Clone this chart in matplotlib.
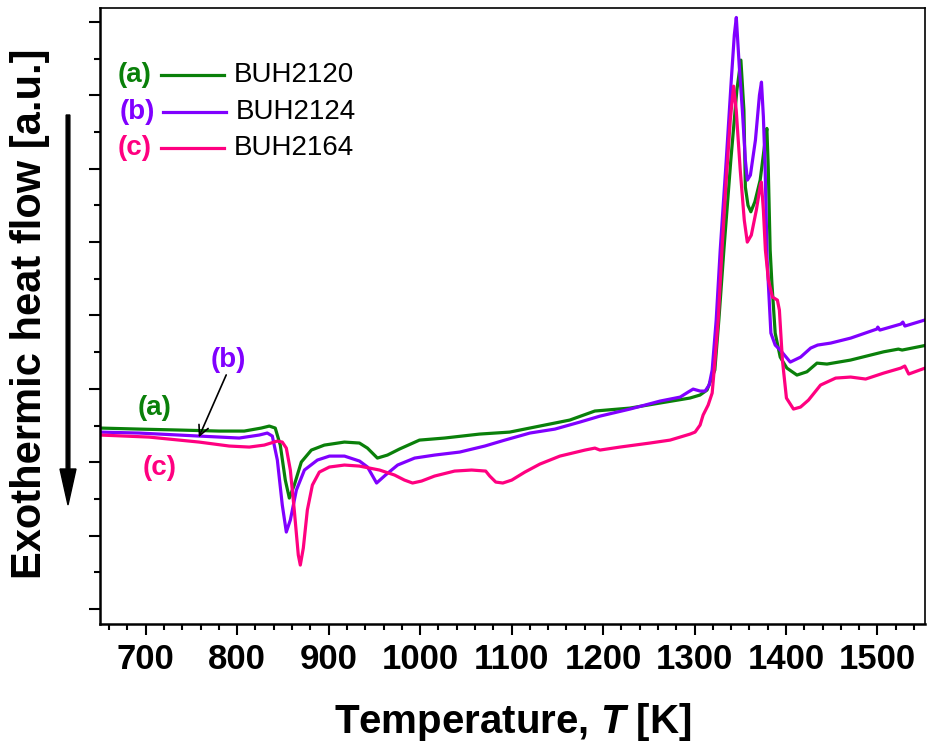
import matplotlib
matplotlib.use("Agg")
import matplotlib.pyplot as plt
from matplotlib.lines import Line2D

plt.rcParams['font.family'] = ['Liberation Sans', 'DejaVu Sans']
plt.rcParams['mathtext.fontset'] = 'custom'
plt.rcParams['mathtext.it'] = 'Liberation Sans:bold:italic'
plt.rcParams['mathtext.rm'] = 'Liberation Sans:bold'

# ---- data (T in K, heat flow in a.u.) ----
T_a = [650, 692.7, 736.5, 780.3, 807.7, 826.3, 835.1, 841.6, 847.1, 852.6, 857.0, 862.4, 870.1, 881.1,
       895.3, 917.2, 933.6, 942.4, 953.3, 964.3, 977.4, 999.3, 1026.7, 1065.0, 1097.9, 1130.7, 1163.6,
       1191.0, 1229.3, 1262.2, 1295.0, 1306.0, 1313.7, 1322.2, 1326.6, 1332.1, 1339.7, 1346.3, 1350.7,
       1354.0, 1355.6, 1358.5, 1361.6, 1366.0, 1371.8, 1377.3, 1379.1, 1380.6, 1382.7, 1384.6, 1388.2,
       1393.7, 1401.0, 1412.0, 1422.9, 1433.9, 1444.8, 1470.4, 1506.8, 1522.9, 1527.0, 1554.4]
H_a = [2.466, 2.452, 2.439, 2.425, 2.425, 2.466, 2.493, 2.466, 2.234, 1.757, 1.512, 1.689, 2.003, 2.166,
       2.234, 2.275, 2.262, 2.193, 2.057, 2.098, 2.180, 2.302, 2.330, 2.384, 2.411, 2.493, 2.575,
       2.698, 2.738, 2.807, 2.875, 2.916, 2.984, 3.256, 3.937, 4.891, 6.117, 7.071, 7.480,
       6.798, 5.749, 5.500, 5.413, 5.550, 5.845, 6.390, 6.549, 6.022, 4.891, 4.441, 3.760,
       3.433, 3.283, 3.188, 3.233, 3.351, 3.338, 3.392, 3.505, 3.542, 3.529, 3.597]

T_b = [650, 692.7, 758.4, 802.2, 824.1, 832.9, 838.4, 843.9, 849.3, 853.7, 858.1, 864.7, 873.5, 887.7,
       900.9, 917.3, 933.8, 942.5, 952.4, 962.2, 975.4, 994.0, 1015.9, 1043.3, 1070.7, 1092.6, 1120.0,
       1147.4, 1174.8, 1196.7, 1229.5, 1262.4, 1284.3, 1293.0, 1298.5, 1306.2, 1311.6, 1316.0, 1319.3,
       1323.7, 1328.1, 1334.7, 1340.2, 1343.5, 1345.7, 1349.0, 1352.3, 1355.6, 1357.8, 1361.1, 1366.6,
       1371.0, 1373.2, 1375.3, 1377.2, 1379.4, 1383.5, 1388.2, 1393.7, 1404.7, 1416.0, 1427.0, 1434.6,
       1448.9, 1470.8, 1499.3, 1500.4, 1502.6, 1525.6, 1527.8, 1530.0, 1555.2]
H_b = [2.411, 2.398, 2.357, 2.330, 2.371, 2.398, 2.357, 2.030, 1.417, 1.049, 1.213, 1.621, 1.894, 2.030,
       2.084, 2.084, 2.016, 1.935, 1.717, 1.826, 1.962, 2.057, 2.098, 2.139, 2.221, 2.302, 2.398,
       2.452, 2.548, 2.629, 2.725, 2.834, 2.888, 2.956, 2.997, 2.970, 2.970, 3.052, 3.256,
       3.937, 4.891, 6.117, 7.207, 7.820, 8.061, 7.384, 6.798, 6.117, 5.845, 5.913, 6.390,
       7.003, 7.180, 6.706, 6.022, 4.755, 3.760, 3.597, 3.529, 3.365, 3.433, 3.556, 3.597,
       3.624, 3.692, 3.815, 3.842, 3.801, 3.883, 3.910, 3.856, 3.951]

T_c = [650, 703.6, 758.4, 791.3, 813.2, 829.6, 843.9, 849.3, 853.7, 858.1, 862.4, 866.8, 869.0, 872.3,
       876.7, 882.2, 889.8, 900.8, 917.2, 933.6, 955.6, 972.0, 982.9, 991.7, 1001.6, 1015.8, 1037.7,
       1056.3, 1071.7, 1076.1, 1082.7, 1090.4, 1100.2, 1114.5, 1130.9, 1152.8, 1180.2, 1191.1, 1196.6,
       1218.5, 1251.3, 1273.3, 1295.2, 1300.6, 1306.1, 1309.4, 1314.9, 1319.3, 1321.5, 1325.9, 1330.0,
       1334.7, 1339.1, 1342.7, 1345.6, 1350.0, 1354.4, 1357.7, 1362.1, 1367.6, 1372.0, 1373.1, 1375.3,
       1377.5, 1380.8, 1385.2, 1390.6, 1392.8, 1396.1, 1400.5, 1408.2, 1415.9, 1424.6, 1437.8, 1454.3,
       1470.7, 1487.1, 1506.8, 1525.5, 1529.9, 1534.2, 1555.1]
H_c = [2.371, 2.343, 2.275, 2.221, 2.207, 2.234, 2.289, 2.275, 2.193, 1.894, 1.349, 0.736, 0.599, 0.831,
       1.349, 1.689, 1.866, 1.935, 1.962, 1.948, 1.894, 1.826, 1.757, 1.717, 1.744, 1.812, 1.880,
       1.894, 1.880, 1.812, 1.730, 1.717, 1.757, 1.866, 1.975, 2.084, 2.166, 2.193, 2.166,
       2.207, 2.262, 2.302, 2.384, 2.411, 2.507, 2.643, 2.779, 2.943, 3.256, 3.937, 4.891,
       5.845, 6.662, 7.125, 6.798, 5.981, 5.300, 5.000, 5.095, 5.436, 5.777, 5.817, 5.436,
       4.891, 4.482, 4.251, 4.210, 4.074, 3.392, 2.875, 2.725, 2.752, 2.847, 3.052, 3.147,
       3.161, 3.134, 3.215, 3.283, 3.311, 3.202, 3.297]

series_names = ["BUH2120", "BUH2124", "BUH2164"]
series_tags = ["(a)", "(b)", "(c)"]
colors = ["#0a800a", "#8000ff", "#ff0080"]
x_ticks = [700, 800, 900, 1000, 1100, 1200, 1300, 1400, 1500]

fig = plt.figure(figsize=(9.27, 7.49), dpi=100)
ax = fig.add_axes([100/927, 1-624/749, 825/927, 616/749])

for T, H, c in zip([T_a, T_b, T_c], [H_a, H_b, H_c], colors):
    ax.plot(T, H, color=c, lw=2.3, solid_joinstyle='round', solid_capstyle='round')

ax.set_xlim(650, 1552)
ax.set_ylim(-0.204, 8.19)
ax.set_xticks(x_ticks)
ax.set_xticks(range(660, 1552, 20), minor=True)
ax.set_yticks(range(0, 9))
ax.set_yticks([i + 0.5 for i in range(0, 8)], minor=True)
ax.set_yticklabels([])
ax.tick_params(which='both', direction='out', top=False, right=False, width=1.5)
ax.tick_params(which='major', length=8)
ax.tick_params(which='minor', length=4.5)
ax.tick_params(axis='x', labelsize=25, pad=6)
for lab in ax.get_xticklabels():
    lab.set_fontweight('bold')
for s in ['left', 'bottom']:
    ax.spines[s].set_linewidth(1.8)
for s in ['top', 'right']:
    ax.spines[s].set_linewidth(1.2)

ax.set_xlabel("Temperature, $\\mathit{T}$ [K]", fontsize=29, fontweight='bold', labelpad=18)

# y label and arrow
fig.text(30/927, 1-314/749, "Exothermic heat flow [a.u.]", rotation=90, fontsize=30,
         fontweight='bold', ha='center', va='center')
fig.patches.append(matplotlib.patches.FancyArrow(68/927, 1-115/749, 0, -390/749, width=3/749,
                   head_width=16/927, head_length=36/749, length_includes_head=True,
                   color='black', transform=fig.transFigure, figure=fig))

# legend (manual)
leg_y = [75, 112, 148]
leg_x0 = [135, 137, 135]
for tag, name, c, py, px in zip(series_tags, series_names, colors, leg_y, leg_x0):
    fy = 1 - py/749
    fig.text(px/927, fy, tag, color=c, fontsize=20, fontweight='bold', ha='center', va='center')
    fig.lines.append(Line2D([(px+26)/927, (px+89)/927], [fy, fy], color=c, lw=2.3,
                            transform=fig.transFigure))
    fig.text((px+99)/927, fy, name, color='black', fontsize=20, ha='left', va='center')

# curve tags
fig.text(155/927, 1-408/749, "(a)", color=colors[0], fontsize=20, fontweight='bold', ha='center', va='center')
fig.text(228/927, 1-360/749, "(b)", color=colors[1], fontsize=20, fontweight='bold', ha='center', va='center')
fig.text(160/927, 1-468/749, "(c)", color=colors[2], fontsize=20, fontweight='bold', ha='center', va='center')
ax.annotate("", xy=(758, 2.34), xytext=(788, 3.19),
            arrowprops=dict(arrowstyle='->', color='black', lw=1.2, mutation_scale=18,
                            shrinkA=0, shrinkB=0))

fig.savefig("out.png", dpi=100)
